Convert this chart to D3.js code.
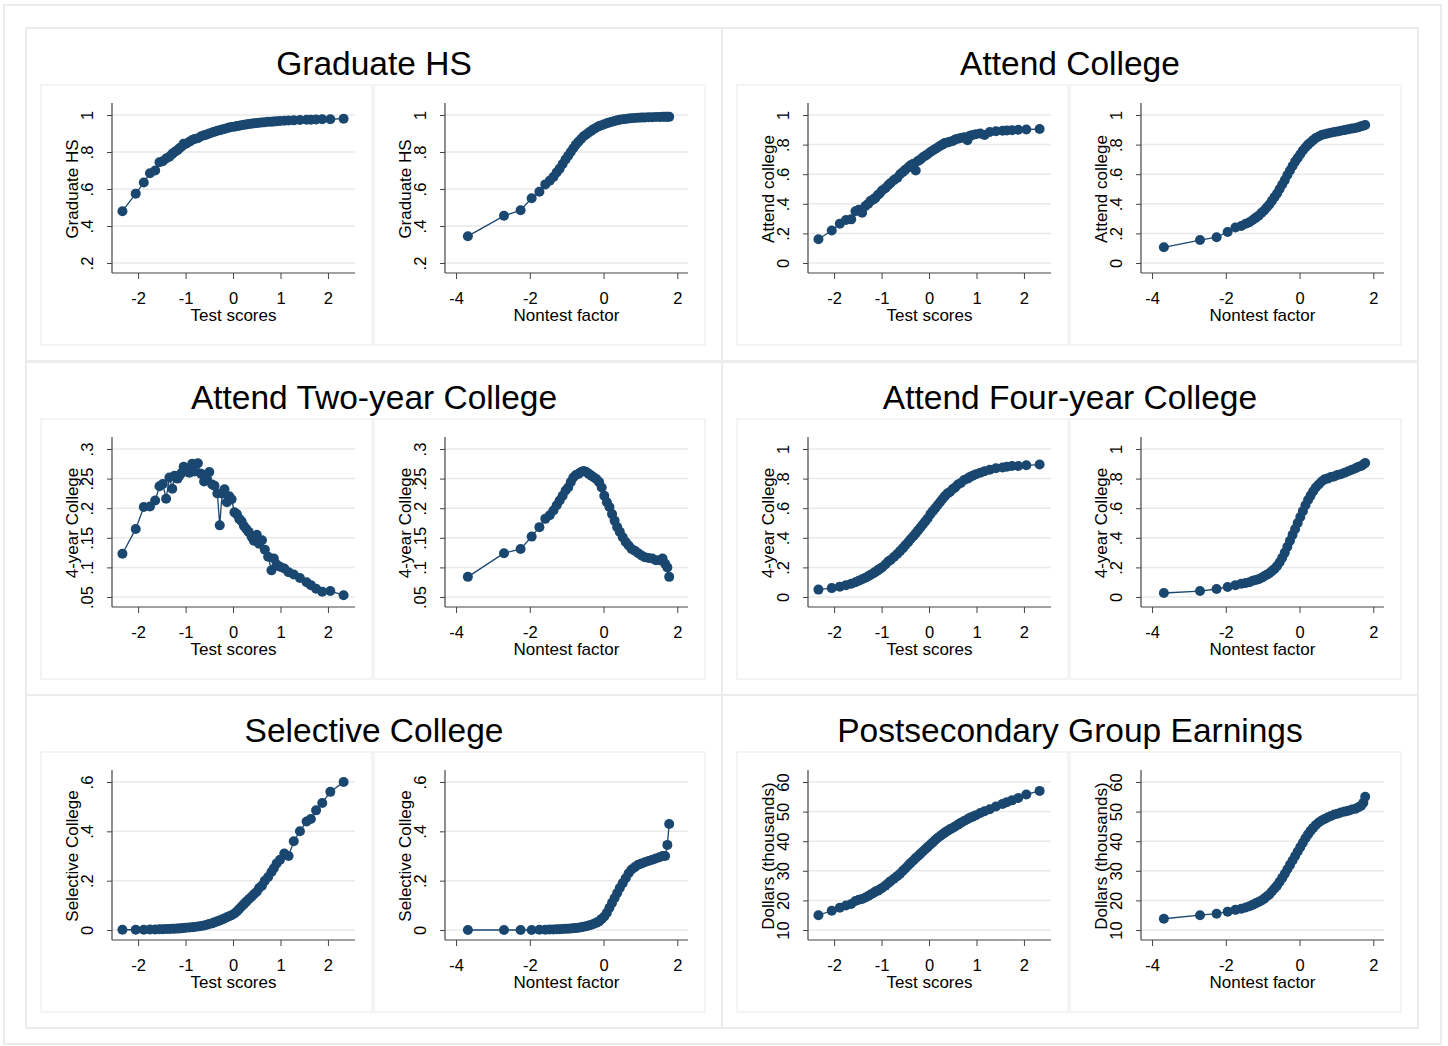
<!DOCTYPE html>
<html>
<head>
<meta charset="utf-8">
<script src="https://cdn.jsdelivr.net/npm/d3@7"></script>
<style>
  body { margin: 0; background: #fff; }
  svg text { font-family: "Liberation Sans", Arial, sans-serif; fill: #000; }
</style>
</head>
<body>
<div id="chart"></div>
<script>
// x values (binned) shared by the plots
var testScores = [
  -2.33, -2.05, -1.88, -1.75, -1.64, -1.55, -1.48, -1.41, -1.34, -1.28,
  -1.23, -1.17, -1.13, -1.08, -1.04, -0.99, -0.92, -0.86, -0.81, -0.74,
  -0.67, -0.61, -0.55, -0.50, -0.44, -0.39, -0.33, -0.28, -0.23, -0.18,
  -0.13, -0.08, -0.03, 0.03, 0.08, 0.13, 0.18, 0.23, 0.28, 0.33,
  0.39, 0.44, 0.50, 0.55, 0.61, 0.67, 0.74, 0.81, 0.86, 0.92,
  0.99, 1.08, 1.17, 1.28, 1.41, 1.55, 1.64, 1.75, 1.88, 2.05,
  2.33
];
var nontestFactor = [
  -3.68, -2.70, -2.25, -1.95, -1.74, -1.58, -1.46, -1.36, -1.27, -1.19,
  -1.11, -1.03, -0.96, -0.89, -0.82, -0.75, -0.68, -0.61, -0.54, -0.47,
  -0.40, -0.33, -0.26, -0.19, -0.12, -0.05, 0.02, 0.09, 0.16, 0.23,
  0.30, 0.37, 0.44, 0.52, 0.60, 0.68, 0.76, 0.85, 0.94, 1.03,
  1.12, 1.22, 1.32, 1.42, 1.52, 1.60, 1.67, 1.73, 1.78
];
var testTicks = [-2, -1, 0, 1, 2];
var nontestTicks = [-4, -2, 0, 2];

// graduate HS
var gradHsTest = [
  .48, .575, .635, .685, .70, .745, .75, .765, .775, .79,
  .80, .81, .82, .83, .845, .845, .855, .865, .87, .875,
  .885, .89, .895, .90, .905, .91, .915, .918, .922, .925,
  .928, .932, .935, .937, .94, .942, .945, .947, .949, .951,
  .953, .955, .957, .958, .96, .961, .963, .964, .965, .966,
  .968, .969, .97, .971, .973, .974, .975, .976, .977, .977,
  .98
];
var gradHsNontest = [
  .345, .455, .485, .55, .585, .625, .645, .665, .69, .71,
  .735, .76, .78, .80, .82, .84, .855, .87, .885, .895,
  .905, .915, .925, .932, .94, .945, .95, .955, .96, .964,
  .968, .971, .974, .977, .979, .981, .983, .984, .985, .986,
  .987, .988, .988, .989, .989, .99, .99, .99, .99
];
var gradHsTicks = [.2, .4, .6, .8, 1];
var gradHsLabels = [".2", ".4", ".6", ".8", "1"];

// attend college
var attendTest = [
  .16, .22, .265, .29, .295, .35, .36, .34, .385, .40,
  .42, .43, .44, .46, .47, .49, .505, .525, .54, .56,
  .575, .60, .615, .63, .645, .66, .67, .625, .69, .70,
  .715, .725, .735, .75, .76, .77, .78, .79, .80, .81,
  .815, .82, .825, .835, .84, .845, .85, .83, .86, .865,
  .87, .875, .865, .885, .89, .893, .895, .897, .90, .902,
  .905
];
var attendNontest = [
  .106, .155, .174, .21, .24, .25, .265, .275, .29, .305,
  .32, .34, .355, .375, .395, .42, .445, .47, .50, .53,
  .56, .595, .625, .655, .685, .71, .735, .76, .78, .80,
  .815, .83, .845, .855, .865, .87, .875, .88, .885, .888,
  .893, .898, .903, .908, .913, .918, .924, .928, .932
];
var attendTicks = [0, .2, .4, .6, .8, 1];
var attendLabels = ["0", ".2", ".4", ".6", ".8", "1"];

// two-year college
var twoYrTest = [
  .123, .165, .202, .203, .213, .237, .241, .216, .252, .233,
  .255, .25, .255, .26, .27, .265, .26, .275, .262, .276,
  .258, .245, .25, .261, .24, .238, .225, .171, .225, .232,
  .21, .22, .215, .193, .19, .182, .178, .17, .165, .16,
  .152, .145, .155, .14, .146, .13, .118, .095, .115, .105,
  .101, .098, .092, .088, .082, .075, .07, .064, .059, .06,
  .053
];
var twoYrNontest = [
  .084, .124, .131, .152, .168, .182, .188, .196, .205, .213,
  .221, .23, .235, .244, .252, .256, .258, .261, .263, .261,
  .258, .255, .252, .249, .244, .235, .221, .21, .202, .19,
  .179, .168, .16, .151, .143, .137, .131, .128, .124, .12,
  .117, .116, .115, .112, .112, .115, .106, .10, .084
];
var twoYrTicks = [.05, .1, .15, .2, .25, .3];
var twoYrLabels = [".05", ".1", ".15", ".2", ".25", ".3"];

// four-year college
var fourYrTest = [
  .05, .06, .07, .08, .09, .10, .11, .12, .13, .14,
  .15, .16, .17, .18, .19, .20, .22, .24, .25, .27,
  .29, .31, .33, .35, .37, .39, .41, .43, .45, .47,
  .49, .51, .53, .56, .58, .60, .62, .64, .66, .68,
  .70, .71, .73, .74, .76, .77, .79, .80, .81, .82,
  .83, .84, .85, .86, .87, .875, .88, .885, .885, .89,
  .895
];
var fourYrNontest = [
  .027, .04, .054, .068, .08, .09, .095, .10, .11, .115,
  .12, .13, .14, .15, .16, .175, .19, .21, .235, .265,
  .30, .34, .38, .42, .46, .50, .54, .58, .62, .655,
  .685, .715, .74, .76, .78, .795, .80, .81, .815, .825,
  .83, .84, .85, .86, .87, .88, .885, .895, .905
];

// selective college
var selectiveTest = [
  .001, .001, .001, .002, .002, .003, .003, .004, .004, .005,
  .005, .006, .006, .007, .008, .009, .01, .011, .012, .014,
  .016, .018, .021, .024, .027, .031, .035, .039, .043, .047,
  .052, .056, .06, .067, .075, .085, .095, .105, .115, .125,
  .135, .145, .155, .17, .18, .20, .215, .235, .25, .27,
  .285, .31, .30, .36, .40, .44, .45, .485, .515, .56,
  .60
];
var selectiveNontest = [
  0, 0, 0, 0, .001, .001, .002, .002, .003, .003,
  .004, .005, .005, .006, .007, .008, .009, .011, .013, .015,
  .018, .021, .025, .03, .035, .045, .055, .07, .09, .11,
  .13, .15, .17, .19, .21, .23, .245, .255, .265, .27,
  .275, .28, .285, .29, .295, .30, .30, .345, .43
];
var selectiveTicks = [0, .2, .4, .6];
var selectiveLabels = ["0", ".2", ".4", ".6"];

// earnings (thousands of dollars)
var earningsTest = [
  15, 16.5, 17.5, 18.3, 18.8, 19.8, 20.2, 20.5, 21, 21.5,
  22, 22.5, 23, 23.3, 23.7, 24.2, 25, 25.8, 26.5, 27.3,
  28.2, 29, 30, 30.8, 31.8, 32.6, 33.5, 34.3, 35, 35.8,
  36.5, 37.3, 38, 38.9, 39.6, 40.4, 41.1, 41.7, 42.3, 42.9,
  43.5, 44, 44.5, 45, 45.6, 46.2, 46.8, 47.4, 47.9, 48.3,
  48.8, 49.5, 50.1, 50.8, 51.7, 52.6, 53.2, 53.8, 54.6, 55.8,
  57
];
var earningsNontest = [
  13.8, 15, 15.5, 16.2, 16.8, 17.2, 17.6, 18, 18.5, 19,
  19.5, 20, 20.6, 21.3, 22, 23, 24, 25, 26.3, 27.6,
  29, 30.5, 32, 33.5, 35, 36.5, 38, 39.5, 41, 42.3,
  43.5, 44.5, 45.5, 46.3, 47, 47.5, 48, 48.5, 49, 49.3,
  49.7, 50, 50.3, 50.7, 51, 51.5, 52, 53, 55
];
var earningsTicks = [10, 20, 30, 40, 50, 60];
var earningsLabels = ["10", "20", "30", "40", "50", "60"];

//define svg area size
var svgWidth = 1448;
var svgHeight = 1046;

var markerColor = "#1a476f";
var frameColor = "#ececec";
var gridColor = "#e9e9e9";

var svg = d3
    .select("#chart")
    .append("svg")
    .attr("width", svgWidth)
    .attr("height", svgHeight);

// outer frame
svg.append("rect")
    .attr("x", 4)
    .attr("y", 5)
    .attr("width", 1437)
    .attr("height", 1039)
    .attr("fill", "none")
    .attr("stroke", frameColor)
    .attr("stroke-width", 2);

// panel setup
var panels = [
    {title: "Graduate HS", yTitle: "Graduate HS", ticks: gradHsTicks, labels: gradHsLabels, test: gradHsTest, nontest: gradHsNontest},
    {title: "Attend College", yTitle: "Attend college", ticks: attendTicks, labels: attendLabels, test: attendTest, nontest: attendNontest},
    {title: "Attend Two-year College", yTitle: "4-year College", ticks: twoYrTicks, labels: twoYrLabels, test: twoYrTest, nontest: twoYrNontest},
    {title: "Attend Four-year College", yTitle: "4-year College", ticks: attendTicks, labels: attendLabels, test: fourYrTest, nontest: fourYrNontest},
    {title: "Selective College", yTitle: "Selective College", ticks: selectiveTicks, labels: selectiveLabels, test: selectiveTest, nontest: selectiveNontest},
    {title: "Postsecondary Group Earnings", yTitle: "Dollars (thousands)", ticks: earningsTicks, labels: earningsLabels, test: earningsTest, nontest: earningsNontest}
];

var colX = [26, 722];
var rowY = [28, 362, 695];
var panelW = 696;
var panelH = 333;

// draws one small scatter plot inside a sub box
function drawSub(g, bx, by, xVals, yVals, xTicks, xDomain, xTitle, p) {
    g.append("rect")
        .attr("x", bx)
        .attr("y", by)
        .attr("width", 331)
        .attr("height", 260)
        .attr("fill", "none")
        .attr("stroke", "#f1f1f1")
        .attr("stroke-width", 1.5);

    var left = bx + 71;
    var right = bx + 314;
    var top = by + 18;
    var bottom = by + 188;

    var xScale = d3.scaleLinear().domain(xDomain).range([left, right]);
    var yScale = d3.scaleLinear()
        .domain([p.ticks[0], p.ticks[p.ticks.length - 1]])
        .range([bottom - 10, top + 12]);

    // gridlines
    g.append("g").selectAll("line")
        .data(p.ticks)
        .enter()
        .append("line")
        .attr("x1", left)
        .attr("x2", right)
        .attr("y1", d => yScale(d))
        .attr("y2", d => yScale(d))
        .attr("stroke", gridColor)
        .attr("stroke-width", 1.5);

    // y axis, labels turned vertical like stata
    var leftAxis = d3.axisLeft(yScale)
        .tickValues(p.ticks)
        .tickFormat((d, i) => p.labels[i])
        .tickSize(5)
        .tickSizeOuter(0);
    var yAxis = g.append("g")
        .attr("transform", `translate(${left}, 0)`)
        .call(leftAxis);
    yAxis.select(".domain").remove();
    yAxis.selectAll("text")
        .attr("transform", "rotate(-90)")
        .attr("x", 0)
        .attr("y", -19)
        .attr("dy", null)
        .attr("text-anchor", "middle")
        .style("font-size", "16.5px");

    // x axis
    var bottomAxis = d3.axisBottom(xScale)
        .tickValues(xTicks)
        .tickFormat(d => String(d))
        .tickSize(6)
        .tickSizeOuter(0);
    var xAxis = g.append("g")
        .attr("transform", `translate(0, ${bottom})`)
        .call(bottomAxis);
    xAxis.select(".domain").remove();
    xAxis.selectAll("text")
        .attr("y", 31)
        .attr("dy", null)
        .style("font-size", "16.5px");

    g.selectAll(".tick line").attr("stroke", "#444");
    g.selectAll(".tick text").attr("fill", "#000");

    // axis lines
    g.append("line")
        .attr("x1", left).attr("x2", left)
        .attr("y1", top).attr("y2", bottom)
        .attr("stroke", "#444").attr("stroke-width", 1.2);
    g.append("line")
        .attr("x1", left).attr("x2", right)
        .attr("y1", bottom).attr("y2", bottom)
        .attr("stroke", "#444").attr("stroke-width", 1.2);

    // axis titles
    g.append("text")
        .attr("x", (left + right) / 2)
        .attr("y", bottom + 48)
        .attr("text-anchor", "middle")
        .style("font-size", "17px")
        .text(xTitle);
    g.append("text")
        .attr("transform", `translate(${left - 34}, ${(top + bottom) / 2 + 1}) rotate(-90)`)
        .attr("text-anchor", "middle")
        .style("font-size", "17px")
        .text(p.yTitle);

    // connected markers
    var pts = xVals.map((x, i) => ({x: x, y: yVals[i]}));
    var line = d3.line()
        .x(d => xScale(d.x))
        .y(d => yScale(d.y));
    g.append("path")
        .datum(pts)
        .attr("d", line)
        .attr("fill", "none")
        .attr("stroke", markerColor)
        .attr("stroke-width", 1.3);
    g.append("g").selectAll("circle")
        .data(pts)
        .enter()
        .append("circle")
        .attr("cx", d => xScale(d.x))
        .attr("cy", d => yScale(d.y))
        .attr("r", 5)
        .attr("fill", markerColor);
}

panels.forEach(function(p, i) {
    var x0 = colX[i % 2];
    var y0 = rowY[Math.floor(i / 2)];
    var g = svg.append("g");

    g.append("rect")
        .attr("x", x0)
        .attr("y", y0)
        .attr("width", panelW)
        .attr("height", panelH)
        .attr("fill", "none")
        .attr("stroke", frameColor)
        .attr("stroke-width", 2);

    g.append("text")
        .attr("x", x0 + panelW / 2)
        .attr("y", y0 + 47)
        .attr("text-anchor", "middle")
        .style("font-size", "33.5px")
        .text(p.title);

    drawSub(g.append("g"), x0 + 15, y0 + 57, testScores, p.test, testTicks, [-2.55, 2.57], "Test scores", p);
    drawSub(g.append("g"), x0 + 348, y0 + 57, nontestFactor, p.nontest, nontestTicks, [-4.3, 2.29], "Nontest factor", p);
});
</script>
</body>
</html>
